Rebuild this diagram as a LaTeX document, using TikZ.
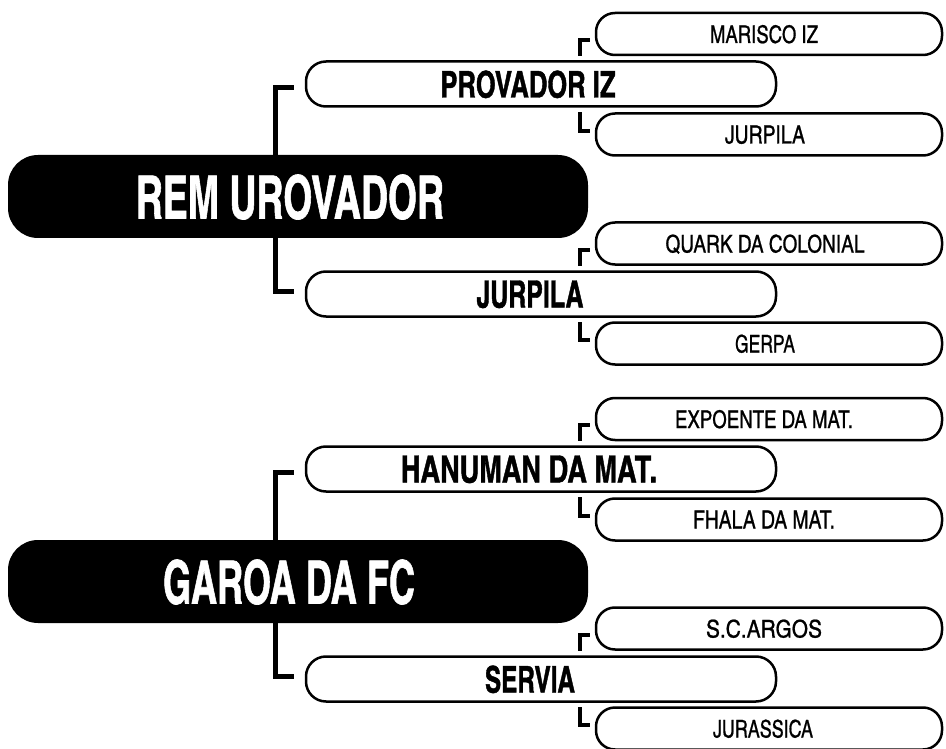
\documentclass[tikz,border=0pt]{standalone}
\usepackage{fontspec}
\usepackage{graphicx}
\usetikzlibrary{calc}
\newfontfamily\cnbold{texgyreheroscn-bold.otf}[FakeBold=1.2]
\newfontfamily\cnreg{texgyreheroscn-regular.otf}[FakeBold=0.8]
\newcommand{\fitw}[3]{\resizebox{#1pt}{#2pt}{#3}}
\begin{document}
\begin{tikzpicture}[x=1pt,y=-1pt,
  smallbox/.style={draw=black, line width=2.5pt, fill=white, rounded corners=19pt,
    minimum width=346pt, minimum height=42pt, inner sep=0pt},
  midbox/.style={draw=black, line width=2.5pt, fill=white, rounded corners=20pt,
    minimum width=470pt, minimum height=45pt, inner sep=0pt},
  mainbox/.style={draw=none, fill=black, rounded corners=30pt,
    minimum width=580pt, minimum height=83pt, inner sep=0pt},
  txt/.style={inner sep=0pt, anchor=base},
  maintxt/.style={txt, text=white, font=\cnbold},
  midtxt/.style={txt, text=black, font=\cnbold},
  smalltxt/.style={txt, text=black, font=\cnreg},
  brk/.style={line width=5pt, draw=black},
  sbrk/.style={line width=4pt, draw=black}]
\useasboundingbox (0,0) rectangle (946,749);

% ---------- top group ----------
\node[smallbox] (mar)   at (769,34)    {};
\node[midbox]   (prov)  at (541,84)    {};
\node[smallbox] (jurs)  at (769,134.5) {};
\node[smallbox] (quark) at (769,243.5) {};
\node[midbox]   (jurm)  at (541,294)   {};
\node[smallbox] (gerpa) at (769,343.5) {};

% ---------- bottom group ----------
\node[smallbox] (expo)   at (769,419)   {};
\node[midbox]   (hanu)   at (541,469)   {};
\node[smallbox] (fhala)  at (769,519.5) {};
\node[smallbox] (argos)  at (769,628.5) {};
\node[midbox]   (servia) at (541,679)   {};
\node[smallbox] (jura)   at (769,728.5) {};

% ---------- main brackets ----------
\draw[brk] let \p1=(prov.west), \p2=(jurm.west) in
  (\x1-11pt,\y1-3.5pt) -- (\x1-29pt,\y1-3.5pt) -- (\x1-29pt,\y2+3pt) -- (\x2-11pt,\y2+3pt);
\draw[brk] let \p1=(hanu.west), \p2=(servia.west) in
  (\x1-11pt,\y1-3.5pt) -- (\x1-29pt,\y1-3.5pt) -- (\x1-29pt,\y2+3pt) -- (\x2-11pt,\y2+3pt);

% ---------- main boxes ----------
\node[mainbox] (rem)   at (298,196.5) {};
\node[mainbox] (garoa) at (298,581.5) {};

% ---------- small brackets ----------
\foreach \up/\mid/\dn in {mar/prov/jurs, quark/jurm/gerpa, expo/hanu/fhala, argos/servia/jura}{
  \draw[sbrk] let \p1=(\up.west), \p2=(\mid.north) in
    (\x1-5pt,\y1-6pt) -- (\x1-14.5pt,\y1-6pt) -- (\x1-14.5pt,\y2+4.5pt);
  \draw[sbrk] let \p1=(\dn.west), \p2=(\mid.south) in
    (\x1-14.5pt,\y2-4.5pt) -- (\x1-14.5pt,\y1+3.5pt) -- (\x1-5pt,\y1+3.5pt);
}

% ---------- texts ----------
\node[maintxt] (rem-t)   at ([xshift=-8pt,yshift=-22pt]rem.center)   {\fitw{308}{44}{REM UROVADOR}};
\node[maintxt] (garoa-t) at ([xshift=-9pt,yshift=-22pt]garoa.center) {\fitw{252}{44}{GAROA DA FC}};

\node[midtxt] (prov-t)   at ([xshift=-13pt,yshift=-13.5pt]prov.center)   {\fitw{175}{27}{PROVADOR IZ}};
\node[midtxt] (jurm-t)   at ([xshift=-11pt,yshift=-13.5pt]jurm.center)   {\fitw{107}{27}{JURPILA}};
\node[midtxt] (hanu-t)   at ([xshift=-12pt,yshift=-13.5pt]hanu.center)   {\fitw{256}{27}{HANUMAN DA MAT.}};
\node[midtxt] (servia-t) at ([xshift=-11pt,yshift=-13.5pt]servia.center) {\fitw{90}{27}{SERVIA}};

\node[smalltxt] (mar-t)   at ([xshift=-5pt,yshift=-9pt]mar.center)   {\fitw{108}{18}{MARISCO IZ}};
\node[smalltxt] (jurs-t)  at ([xshift=-4pt,yshift=-9pt]jurs.center)  {\fitw{80}{18}{JURPILA}};
\node[smalltxt] (quark-t) at ([xshift=-4pt,yshift=-9pt]quark.center) {\fitw{199}{18}{QUARK DA COLONIAL}};
\node[smalltxt] (gerpa-t) at ([xshift=-4pt,yshift=-9pt]gerpa.center) {\fitw{60}{18}{GERPA}};
\node[smalltxt] (expo-t)  at ([xshift=-5pt,yshift=-9pt]expo.center)  {\fitw{178}{18}{EXPOENTE DA MAT.}};
\node[smalltxt] (fhala-t) at ([xshift=-5pt,yshift=-9pt]fhala.center) {\fitw{142}{18}{FHALA DA MAT.}};
\node[smalltxt] (argos-t) at ([xshift=-5pt,yshift=-9pt]argos.center) {\fitw{116}{18}{S.C.ARGOS}};
\node[smalltxt] (jura-t)  at ([xshift=-6pt,yshift=-9pt]jura.center)  {\fitw{100}{18}{JURASSICA}};
\end{tikzpicture}
\end{document}
